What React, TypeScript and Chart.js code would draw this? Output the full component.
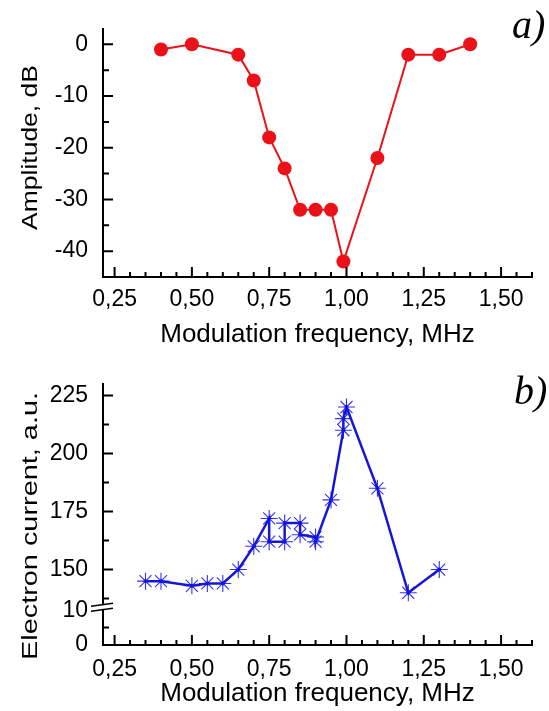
import React, { useEffect, useRef } from 'react';
import { Chart, registerables } from 'chart.js';

Chart.register(...registerables);

// ---------- Panel a) : amplitude ----------
const FREQ_A = [0.40, 0.50, 0.65, 0.70, 0.75, 0.80, 0.85, 0.90, 0.95, 0.99, 1.10, 1.20, 1.30, 1.40];
const AMP_A = [-1, 0, -2, -7, -18, -24, -32, -32, -32, -42, -22, -2, -2, 0];

// ---------- Panel b) : electron current ----------
const FREQ_B = [0.35, 0.40, 0.50, 0.55, 0.60, 0.65, 0.70, 0.75, 0.75, 0.80, 0.80, 0.85, 0.85, 0.90, 0.90, 0.95, 0.99, 0.99, 1.00, 1.10, 1.20, 1.30];
const CURRENT_B = [145, 145, 143, 144, 144, 150, 160, 172, 162, 162, 170, 170, 165, 164, 162, 180, 210, 215, 220, 185, 140, 150];

// ---------- Axes ----------
const X_MAJOR_TICKS = [0.25, 0.5, 0.75, 1.0, 1.25, 1.5];
const X_TICK_LABELS = ['0,25', '0,50', '0,75', '1,00', '1,25', '1,50'];
const X_MINOR_TICKS = [0.3, 0.35, 0.4, 0.45, 0.55, 0.6, 0.65, 0.7, 0.8, 0.85, 0.9, 0.95, 1.05, 1.1, 1.15, 1.2, 1.3, 1.35, 1.4, 1.45, 1.55, 1.6];

const Y_A_TICKS = [0, -10, -20, -30, -40];
const Y_A_LABELS = ['0', '-10', '-20', '-30', '-40'];
const Y_A_MINOR = [-5, -15, -25, -35];

// broken axis: the stretch below the break (0..10) is drawn compressed
const Y_B_TICKS = [117.5, 132.5, 150, 175, 200, 225];
const Y_B_LABELS = ['0', '10', '150', '175', '200', '225'];
const Y_B_MAJOR = [150, 175, 200, 225];
const Y_B_MINOR = [125, 137.5, 162.5, 187.5, 212.5];
const Y_B_BREAK = 134;

const X_TITLE = 'Modulation frequency, MHz';
const Y_TITLE_A = 'Amplitude, dB';
const Y_TITLE_B = 'Electron current, a.u.';
const PANEL_A = 'a)';
const PANEL_B = 'b)';

const SANS = '"Liberation Sans", Arial, sans-serif';

const decorPlugin = {
  id: 'decor',
  afterDraw(chart: any, _args: any, o: any) {
    const { ctx, chartArea } = chart;
    const xs = chart.scales.x;
    const ys = chart.scales.y;
    ctx.save();
    ctx.strokeStyle = '#000';
    ctx.lineWidth = 2;
    ctx.beginPath();
    for (const v of o.xMajor) {
      const p = xs.getPixelForValue(v);
      ctx.moveTo(p, chartArea.bottom);
      ctx.lineTo(p, chartArea.bottom - 10);
    }
    for (const v of o.xMinor) {
      const p = xs.getPixelForValue(v);
      ctx.moveTo(p, chartArea.bottom);
      ctx.lineTo(p, chartArea.bottom - 5);
    }
    for (const v of o.yMajor) {
      const p = ys.getPixelForValue(v);
      ctx.moveTo(chartArea.left, p);
      ctx.lineTo(chartArea.left + 10, p);
    }
    for (const v of o.yMinor) {
      const p = ys.getPixelForValue(v);
      ctx.moveTo(chartArea.left, p);
      ctx.lineTo(chartArea.left + 6, p);
    }
    ctx.stroke();

    if (o.breakAt != null) {
      const p = ys.getPixelForValue(o.breakAt);
      const x0 = chartArea.left - 12;
      const x1 = chartArea.left + 10;
      ctx.fillStyle = '#fff';
      ctx.beginPath();
      ctx.moveTo(x0 + 8, p - 1);
      ctx.lineTo(x1 - 8, p - 3.5);
      ctx.lineTo(x1 - 8, p + 1.5);
      ctx.lineTo(x0 + 8, p + 4);
      ctx.closePath();
      ctx.fill();
      ctx.lineWidth = 1.6;
      ctx.beginPath();
      ctx.moveTo(x0, p - 0.5);
      ctx.lineTo(x1, p - 3.5);
      ctx.moveTo(x0, p + 4.5);
      ctx.lineTo(x1, p + 1.5);
      ctx.stroke();
    }

    // rotated y title
    const t = o.yTitle;
    ctx.save();
    ctx.translate(t.x, t.y);
    ctx.rotate(-Math.PI / 2);
    ctx.font = `${t.size}px ${SANS}`;
    const w = ctx.measureText(t.text).width;
    ctx.scale(t.length / w, 1);
    ctx.textAlign = 'center';
    ctx.textBaseline = 'middle';
    ctx.fillStyle = '#000';
    ctx.fillText(t.text, 0, 0);
    ctx.restore();

    // panel letter
    const pl = o.panel;
    ctx.font = `italic ${pl.size}px "Liberation Serif", "Times New Roman", serif`;
    ctx.fillStyle = '#000';
    ctx.textAlign = 'left';
    ctx.textBaseline = 'alphabetic';
    ctx.fillText(pl.text, pl.x, pl.y);
    ctx.restore();
  },
};

function xScale(height: number, labelPad: number, titlePad: number) {
  return {
    type: 'linear',
    min: 0.2125,
    max: 1.6,
    afterBuildTicks: (s: any) => {
      s.ticks = X_MAJOR_TICKS.map((v) => ({ value: v }));
    },
    afterFit: (s: any) => {
      s.height = height;
    },
    ticks: {
      autoSkip: false,
      maxRotation: 0,
      padding: labelPad,
      color: '#000',
      font: { family: SANS, size: 23 },
      callback: (_v: any, i: number) => X_TICK_LABELS[i],
    },
    grid: { display: false, drawTicks: false },
    border: { display: true, color: '#000', width: 2 },
    title: {
      display: true,
      text: X_TITLE,
      color: '#000',
      font: { family: SANS, size: 26 },
      padding: { top: 0, bottom: titlePad },
    },
  };
}

function yScale(min: number, max: number, ticks: number[], labels: string[]) {
  return {
    type: 'linear',
    min,
    max,
    afterBuildTicks: (s: any) => {
      s.ticks = ticks.map((v) => ({ value: v }));
    },
    afterFit: (s: any) => {
      s.width = 103;
    },
    ticks: {
      autoSkip: false,
      padding: 15,
      color: '#000',
      font: { family: SANS, size: 23 },
      callback: (_v: any, i: number) => labels[i],
    },
    grid: { display: false, drawTicks: false },
    border: { display: true, color: '#000', width: 2 },
  };
}

export default function App() {
  const refA = useRef<HTMLCanvasElement>(null);
  const refB = useRef<HTMLCanvasElement>(null);

  useEffect(() => {
    const red = 'rgb(234,18,24)';
    const chartA = new Chart(refA.current as HTMLCanvasElement, {
      type: 'line',
      data: {
        datasets: [
          {
            data: FREQ_A.map((x, i) => ({ x, y: AMP_A[i] })),
            borderColor: red,
            backgroundColor: red,
            borderWidth: 2,
            pointRadius: 7,
            pointBorderWidth: 0,
            pointBackgroundColor: red,
            tension: 0,
            clip: false,
          } as any,
        ],
      },
      options: {
        responsive: false,
        animation: false,
        layout: { padding: { top: 7, right: 17, left: 0, bottom: 0 } },
        scales: {
          x: xScale(78, 9, 5),
          y: yScale(-45, 3, Y_A_TICKS, Y_A_LABELS),
        } as any,
        plugins: {
          legend: { display: false },
          tooltip: { enabled: false },
          decor: {
            xMajor: X_MAJOR_TICKS,
            xMinor: X_MINOR_TICKS,
            yMajor: Y_A_TICKS,
            yMinor: Y_A_MINOR,
            breakAt: null,
            yTitle: { text: Y_TITLE_A, x: 31, y: 147.5, size: 22, length: 165 },
            panel: { text: PANEL_A, x: 512, y: 38, size: 40 },
          },
        } as any,
      },
      plugins: [decorPlugin],
    });

    const blue = 'rgb(22,22,215)';
    const starBlue = 'rgb(50,50,245)';
    const pts = FREQ_B.map((x, i) => ({ x, y: CURRENT_B[i] }));
    const chartB = new Chart(refB.current as HTMLCanvasElement, {
      type: 'line',
      data: {
        datasets: [
          {
            data: pts,
            borderColor: blue,
            backgroundColor: blue,
            borderWidth: 2.5,
            pointRadius: 2,
            pointBorderWidth: 0,
            pointBackgroundColor: blue,
            tension: 0,
            clip: false,
          } as any,
          {
            data: pts,
            showLine: false,
            pointStyle: 'star',
            pointRadius: 8.5,
            pointBorderWidth: 1.1,
            pointBorderColor: starBlue,
            pointBackgroundColor: starBlue,
            clip: false,
          } as any,
        ],
      },
      options: {
        responsive: false,
        animation: false,
        layout: { padding: { top: 20, right: 17, left: 0, bottom: 0 } },
        scales: {
          x: xScale(66, 11, 1.5),
          y: yScale(117.5, 230, Y_B_TICKS, Y_B_LABELS),
        } as any,
        plugins: {
          legend: { display: false },
          tooltip: { enabled: false },
          decor: {
            xMajor: X_MAJOR_TICKS,
            xMinor: X_MINOR_TICKS,
            yMajor: Y_B_MAJOR,
            yMinor: Y_B_MINOR,
            breakAt: Y_B_BREAK,
            yTitle: { text: Y_TITLE_B, x: 31, y: 171, size: 22, length: 268 },
            panel: { text: PANEL_B, x: 514, y: 49, size: 40 },
          },
        } as any,
      },
      plugins: [decorPlugin],
    });

    return () => {
      chartA.destroy();
      chartB.destroy();
    };
  }, []);

  return (
    <div style={{ position: 'absolute', left: 0, top: 0, width: 549, height: 711, background: '#fff' }}>
      <canvas ref={refA} width={549} height={355} style={{ position: 'absolute', left: 0, top: 0, display: 'block' }} />
      <canvas ref={refB} width={549} height={356} style={{ position: 'absolute', left: 0, top: 355, display: 'block' }} />
    </div>
  );
}
